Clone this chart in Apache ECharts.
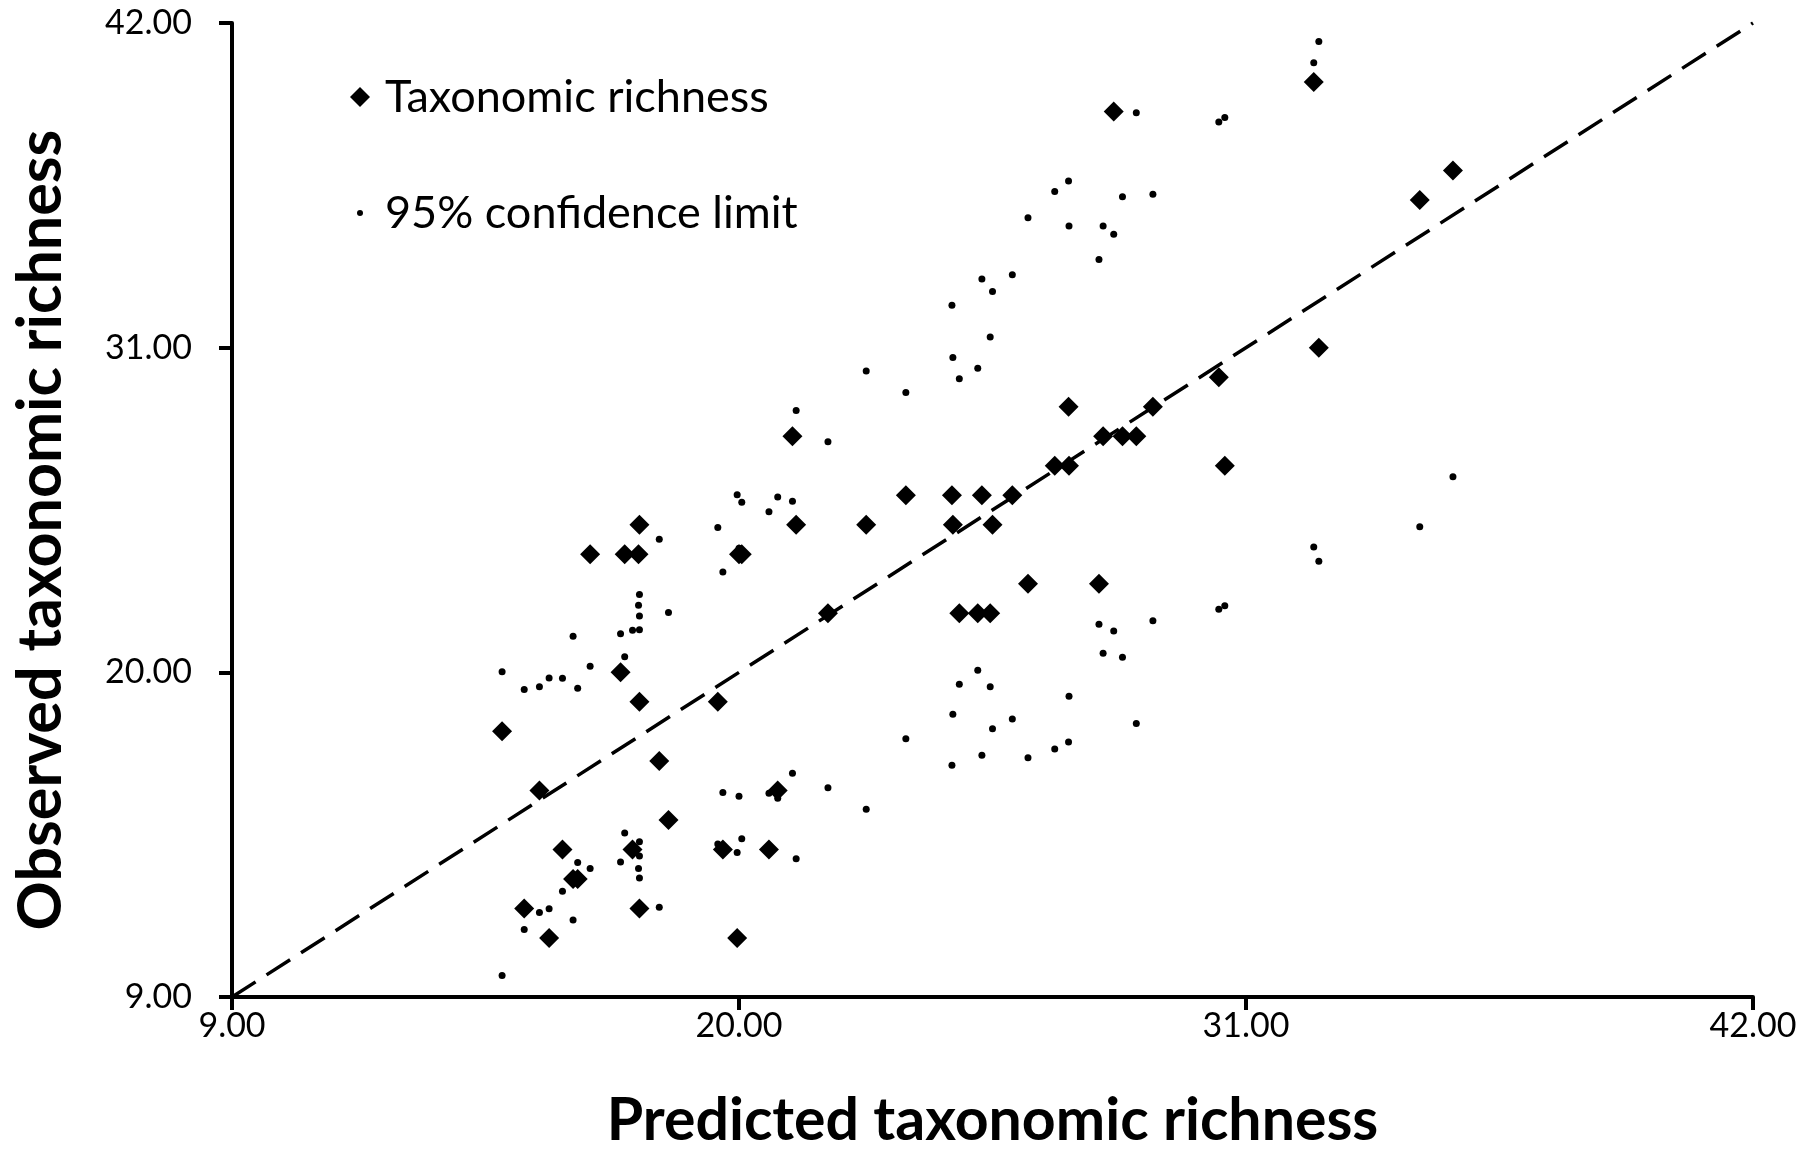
<!DOCTYPE html>
<html>
<head>
<meta charset="utf-8">
<title>Observed vs predicted taxonomic richness</title>
<script src="https://cdn.jsdelivr.net/npm/echarts@6/dist/echarts.min.js"></script>
<style>
  html, body { margin: 0; padding: 0; background: #ffffff; }
  #chart { width: 1818px; height: 1153px; }
</style>
</head>
<body>
<div id="chart"></div>
<script>
// Predicted richness per site, the observed count, and the 95% confidence limits
const predicted = [
  14.86, 15.34, 15.67, 15.88, 16.17, 16.40, 16.50, 16.77, 17.43, 17.52,
  17.69, 17.82, 17.84, 17.84, 17.84, 18.27, 18.47, 19.54, 19.65, 19.96,
  20.00, 20.06, 20.65, 20.84, 21.16, 21.24, 21.93, 22.76, 23.62, 24.62,
  24.64, 24.78, 25.18, 25.27, 25.45, 25.50, 25.93, 26.27, 26.85, 27.15,
  27.16, 27.81, 27.90, 28.13, 28.32, 28.62, 28.98, 30.41, 30.54, 32.47,
  32.58, 34.77, 35.49
];
const observed = [
  18, 12, 16, 11, 14, 13, 13, 24, 20, 24,
  14, 24, 25, 19, 12, 17, 15, 19, 14, 11,
  24, 24, 14, 16, 28, 25, 22, 25, 26, 26,
  25, 22, 22, 26, 22, 25, 26, 23, 27, 29,
  27, 23, 28, 39, 28, 28, 29, 30, 27, 40,
  31, 36, 37
];
const lowerLimit = [
  9.73, 11.29, 11.86, 11.99, 12.58, 11.61, 13.56, 13.35, 13.57, 14.56,
  13.95, 13.35, 13.03, 13.78, 14.26, 12.04, 14.91, 14.18, 15.93, 13.90,
  15.80, 14.36, 15.90, 15.73, 16.58, 13.68, 16.09, 15.36, 17.75, 16.85,
  18.58, 19.60, 20.07, 17.19, 19.51, 18.09, 18.42, 17.11, 17.40, 17.64,
  19.19, 21.63, 20.65, 21.40, 20.51, 18.27, 21.75, 22.14, 22.26, 24.25,
  23.76, 24.93, 26.63
];
// upper limits of the two highest predictions fall above the plotted range
const upperLimit = [
  20.02, 19.42, 19.51, 19.81, 19.80, 21.22, 19.46, 20.21, 21.31, 20.53,
  21.43, 22.27, 22.64, 21.91, 21.44, 24.51, 22.03, 24.91, 23.40, 26.02,
  24.20, 25.76, 25.44, 25.94, 25.80, 28.87, 27.81, 30.21, 29.48, 32.44,
  30.67, 29.95, 30.30, 33.33, 31.36, 32.90, 33.47, 35.40, 36.29, 36.65,
  35.12, 33.99, 35.12, 34.84, 36.11, 38.96, 36.20, 38.65, 38.80, 40.65,
  41.37, null, null
];

// Axis ticks and the 1:1 reference line
const tickValues = [9, 20, 31, 42];
const identityLine = [9, 42];

const FONT = 'Lato, "Open Sans", sans-serif';
const tickStep = tickValues[1] - tickValues[0];

const richnessPoints = predicted.map((p, i) => [p, observed[i]]);
const limitPoints = [];
predicted.forEach((p, i) => {
  if (lowerLimit[i] != null) limitPoints.push([p, lowerLimit[i]]);
  if (upperLimit[i] != null) limitPoints.push([p, upperLimit[i]]);
});
const linePoints = identityLine.map(v => [v, v]);

const axisCommon = {
  type: 'value',
  min: tickValues[0],
  max: tickValues[tickValues.length - 1],
  interval: tickStep,
  splitLine: { show: false },
  axisLine: { show: true, onZero: false, lineStyle: { color: '#000', width: 4 } },
  axisTick: { show: true, inside: false, length: 13, lineStyle: { color: '#000', width: 4 } },
  nameLocation: 'middle',
  nameTextStyle: { fontFamily: FONT, fontWeight: 'bold', color: '#000', fontSize: 59, lineHeight: 70 }
};

const chart = echarts.init(document.getElementById('chart'), null, { renderer: 'canvas' });
chart.setOption({
  animation: false,
  backgroundColor: '#ffffff',
  grid: { left: 232, right: 65, top: 23, bottom: 156, outerBoundsMode: 'none', containLabel: false },
  legend: [
    {
      data: ['Taxonomic richness'],
      left: 350, top: 71, padding: 0,
      icon: 'diamond', itemWidth: 20, itemHeight: 20,
      selectedMode: false,
      textStyle: { fontFamily: FONT, fontSize: 45, color: '#000', lineHeight: 52, padding: [0, 0, 0, 10] }
    },
    {
      data: ['95% confidence limit'],
      left: 357, top: 187, padding: 0,
      icon: 'circle', itemWidth: 6, itemHeight: 6,
      selectedMode: false,
      textStyle: { fontFamily: FONT, fontSize: 45, color: '#000', lineHeight: 52, padding: [0, 0, 0, 17] }
    }
  ],
  xAxis: Object.assign({}, axisCommon, {
    name: 'Predicted taxonomic richness',
    nameGap: 89,
    axisLabel: {
      fontFamily: FONT, fontSize: 34, color: '#000', margin: 12,
      showMinLabel: true, showMaxLabel: true,
      formatter: v => v.toFixed(2)
    }
  }),
  yAxis: Object.assign({}, axisCommon, {
    name: 'Observed taxonomic richness',
    nameGap: 156,
    nameRotate: 90,
    nameTextStyle: Object.assign({}, axisCommon.nameTextStyle, { fontSize: 61, padding: [0, 40, 0, 0] }),
    axisLabel: {
      fontFamily: FONT, fontSize: 34, color: '#000', margin: 40,
      showMinLabel: true, showMaxLabel: true,
      formatter: v => v.toFixed(2)
    }
  }),
  series: [
    {
      name: '1:1',
      type: 'line',
      data: linePoints,
      symbol: 'none',
      silent: true,
      z: 1,
      lineStyle: { color: '#000', width: 3.5, type: [28, 13] }
    },
    {
      name: '95% confidence limit',
      type: 'scatter',
      data: limitPoints,
      symbol: 'circle',
      symbolSize: 7,
      clip: true,
      z: 2,
      itemStyle: { color: '#000', opacity: 1 }
    },
    {
      name: 'Taxonomic richness',
      type: 'scatter',
      data: richnessPoints,
      symbol: 'diamond',
      symbolSize: 20,
      clip: true,
      z: 3,
      itemStyle: { color: '#000', opacity: 1 }
    }
  ]
});
</script>
</body>
</html>
